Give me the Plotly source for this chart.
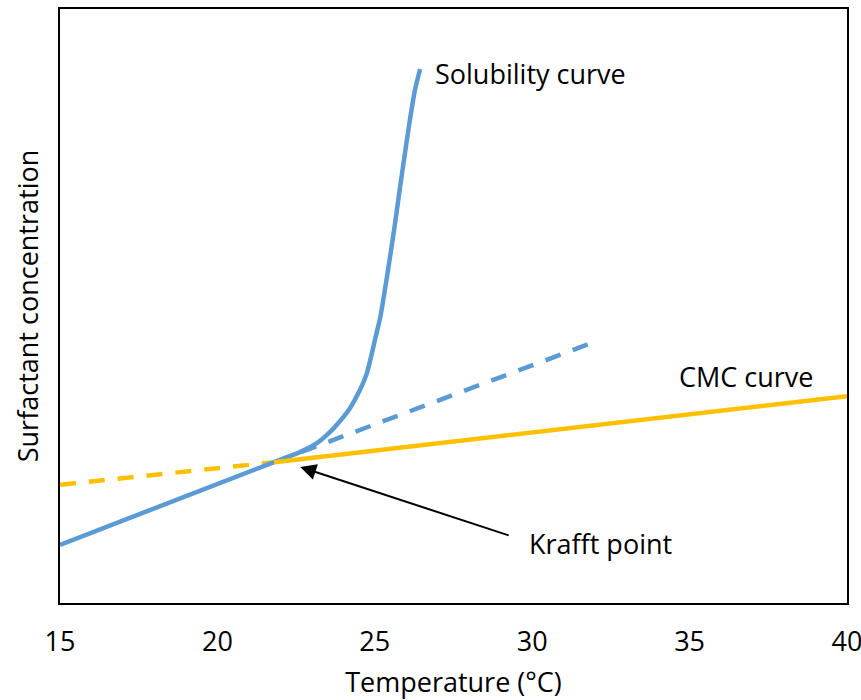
import plotly.graph_objects as go

# Solubility curve (solid blue)
sol_x = [15.0, 21.80, 22.62, 23.16, 23.58, 23.89, 24.21, 24.53, 24.75, 24.91, 25.04,
         25.17, 25.32, 25.48, 25.64, 25.80, 25.96, 26.12, 26.28, 26.44]
sol_y = [0.98, 2.37, 2.54, 2.69, 2.88, 3.06, 3.28, 3.59, 3.87, 4.21, 4.51,
         4.80, 5.27, 5.81, 6.38, 6.99, 7.58, 8.15, 8.65, 8.99]

# Extrapolated solubility (dashed blue)
ext_x = [21.8, 32.05]
ext_y = [2.37, 4.41]

# CMC curve: dashed part and solid part
cmc_dash_x = [15.0, 21.8]
cmc_dash_y = [1.99, 2.37]
cmc_x = [21.8, 40.0]
cmc_y = [2.37, 3.48]

# Krafft point arrow (tip and tail)
krafft_tip = (22.63, 2.29)
krafft_tail = (29.3, 1.13)

BLUE = "#5B9BD5"
YELLOW = "#FFC000"
FONT = "Open Sans"
FS = 27

fig = go.Figure()
fig.add_trace(go.Scatter(x=ext_x, y=ext_y, mode="lines",
                         line=dict(color=BLUE, width=4.5, dash="16px,13px"),
                         showlegend=False, hoverinfo="skip"))
fig.add_trace(go.Scatter(x=cmc_dash_x, y=cmc_dash_y, mode="lines",
                         line=dict(color=YELLOW, width=4.5, dash="16px,13px"),
                         showlegend=False, hoverinfo="skip"))
fig.add_trace(go.Scatter(x=sol_x, y=sol_y, mode="lines",
                         line=dict(color=BLUE, width=4.5, shape="spline", smoothing=0.5),
                         showlegend=False, hoverinfo="skip"))
fig.add_trace(go.Scatter(x=cmc_x, y=cmc_y, mode="lines",
                         line=dict(color=YELLOW, width=4.5),
                         showlegend=False, hoverinfo="skip"))

fig.add_annotation(x=krafft_tip[0], y=krafft_tip[1], ax=krafft_tail[0], ay=krafft_tail[1],
                   xref="x", yref="y", axref="x", ayref="y",
                   showarrow=True, arrowhead=2, arrowsize=1.6, arrowwidth=2,
                   arrowcolor="black", text="")
fig.add_annotation(x=29.85, y=1.0, xref="x", yref="y", text="Krafft point",
                   showarrow=False, xanchor="left", yanchor="middle",
                   font=dict(family=FONT, size=FS, color="black"))
fig.add_annotation(x=26.85, y=8.92, xref="x", yref="y", text="Solubility curve",
                   showarrow=False, xanchor="left", yanchor="middle",
                   font=dict(family=FONT, size=FS, color="black"))
fig.add_annotation(x=34.6, y=3.81, xref="x", yref="y", text="CMC curve",
                   showarrow=False, xanchor="left", yanchor="middle",
                   font=dict(family=FONT, size=FS, color="black"))

fig.update_layout(
    width=861, height=700,
    margin=dict(l=60, r=14, t=9, b=97),
    paper_bgcolor="white", plot_bgcolor="white",
    font=dict(family=FONT, size=FS, color="black"),
    xaxis=dict(range=[15, 40], tickvals=[15, 20, 25, 30, 35, 40],
               showgrid=False, zeroline=False, showline=True, mirror=True,
               linecolor="black", linewidth=2, ticks="outside", ticklen=14,
               tickcolor="rgba(0,0,0,0)", automargin=False,
               ticklabeloverflow="allow",
               title=dict(text="Temperature (°C)", standoff=16,
                          font=dict(family=FONT, size=FS)),
               tickfont=dict(family=FONT, size=FS)),
    yaxis=dict(range=[0, 10], showticklabels=False, showgrid=False, zeroline=False,
               showline=True, mirror=True, linecolor="black", linewidth=2, ticks="",
               automargin=False,
               title=dict(text="Surfactant concentration", standoff=12,
                          font=dict(family=FONT, size=FS))),
)

fig.write_html("out.html")
